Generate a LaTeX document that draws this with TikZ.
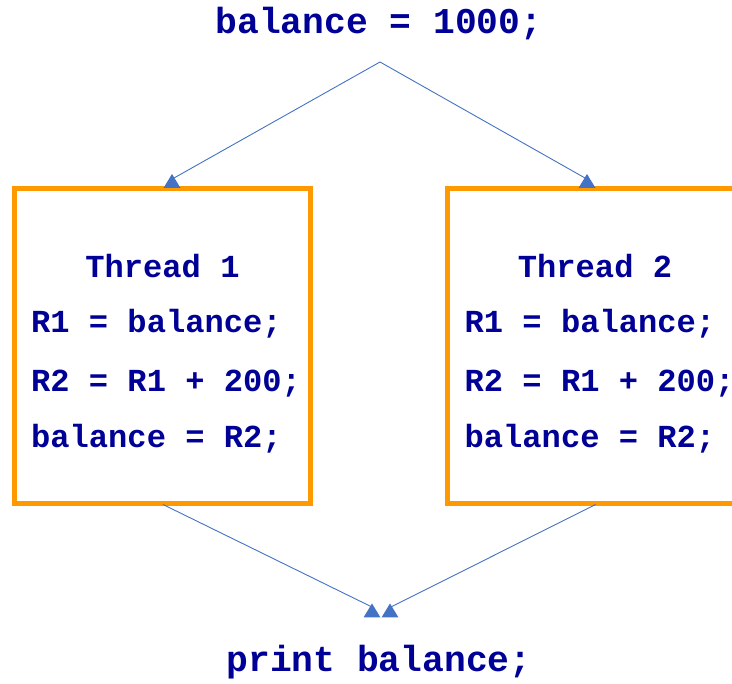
\documentclass[tikz,border=0pt]{standalone}
\usepackage{fontspec}
\newfontfamily\codefont{Liberation Mono}
\definecolor{codeblue}{RGB}{0,0,150}
\definecolor{boxorange}{RGB}{255,153,0}
\definecolor{linkblue}{RGB}{68,114,196}
\begin{document}
\begin{tikzpicture}[x=1pt,y=-1pt,
  bigcode/.style={inner sep=0pt,anchor=base,text=codeblue,font=\codefont\bfseries\fontsize{36.3}{40}\selectfont},
  code/.style={inner sep=0pt,anchor=base west,text=codeblue,font=\codefont\bfseries\fontsize{32.1}{36}\selectfont},
  title/.style={code,anchor=base},
  threadbox/.style={draw=boxorange,line width=5pt,fill=white},
  link/.style={draw=linkblue,line width=0.9pt},
  tip/.style={fill=linkblue}]
\useasboundingbox (0,0) rectangle (732,684);
% boxes
\draw[threadbox] (14.5,188.5) rectangle (310.5,504);
\draw[threadbox] (447.5,188.5) rectangle (743.5,504);
% texts
\node[bigcode] (start) at (379,33.5) {balance = 1000;};
\node[bigcode] (end) at (379,672) {print balance;};
\node[title] (t1) at (162.5,278) {Thread 1};
\node[code] (a1) at (31,333) {R1 = balance;};
\node[code] (b1) at (31,392) {R2 = R1 + 200;};
\node[code] (c1) at (31,448) {balance = R2;};
\node[title] (t2) at (595,278) {Thread 2};
\node[code] (a2) at (464.5,333) {R1 = balance;};
\node[code] (b2) at (464.5,392) {R2 = R1 + 200;};
\node[code] (c2) at (464.5,448) {balance = R2;};
% connector points
\coordinate (fork) at (380,62);
\coordinate (in1) at (174,178);
\coordinate (in2) at (585,178);
\coordinate (out1) at (163,504.5);
\coordinate (out2) at (595.5,504.5);
\coordinate (join1) at (374,608);
\coordinate (join2) at (389,608);
% connectors
\draw[link] (fork) -- (in1);
\draw[link] (fork) -- (in2);
\draw[link] (out1) -- (join1);
\draw[link] (out2) -- (join2);
% arrowheads
\fill[tip] (172,174) -- (180.5,188) -- (163.5,188) -- cycle;
\fill[tip] (587,174) -- (595.5,188) -- (578.5,188) -- cycle;
\fill[tip] (372,603.5) -- (380.5,617.5) -- (363.5,617.5) -- cycle;
\fill[tip] (390,603.5) -- (398.5,617.5) -- (381.5,617.5) -- cycle;
\end{tikzpicture}
\end{document}
